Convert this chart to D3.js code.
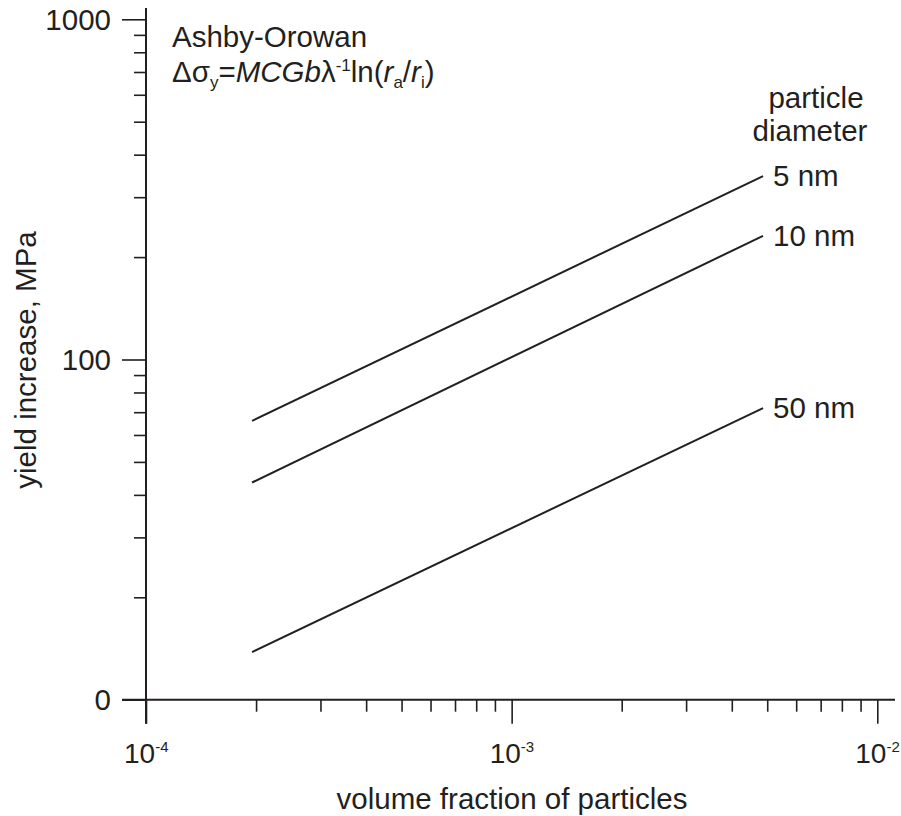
<!DOCTYPE html>
<html>
<head>
<meta charset="utf-8">
<script src="https://cdn.jsdelivr.net/npm/d3@7"></script>
<style>
body { margin: 0; background: #fff; }
text { font-family: "Liberation Sans", Arial, sans-serif; fill: #231f20; }
</style>
</head>
<body>
<script>
//width and height of svg
var w = 901;
var h = 816;

//the data
var volFraction = [1.95e-4, 4.87e-3];
var diameters = ["5 nm", "10 nm", "50 nm"];
var yield5 = [66, 346];
var yield10 = [43.5, 231];
var yield50 = [13.8, 72];
var xMajor = [1e-4, 1e-3, 1e-2];
var xMajorLabels = ["-4", "-3", "-2"];
var yMajor = [10, 100, 1000];
var yMajorLabels = ["0", "100", "1000"];

var series = [yield5, yield10, yield50];

//minor ticks: 2..9 in each decade
var xMinor = [];
[1e-4, 1e-3].forEach(function(d) {
    for (var k = 2; k < 10; k++) xMinor.push(d * k);
});
var yMinor = [];
[10, 100].forEach(function(d) {
    for (var k = 2; k < 10; k++) yMinor.push(d * k);
});

var svg = d3.select("body")
            .append("svg")
            .attr("width", w)
            .attr("height", h);

//log scales on both axes
var xScale = d3.scaleLog()
                .domain([1e-4, 1e-2])
                .range([146, 877.3]);

var yScale = d3.scaleLog()
                .domain([10, 1000])
                .range([699.7, 19.3]);

var x0 = xScale.range()[0];
var y0 = yScale.range()[0];

var ink = "#231f20";
var fs = "29.5px";
var fsSmall = "17px";

//axis lines, drawn long like in the original
svg.append("line")
    .attr("x1", x0).attr("x2", x0)
    .attr("y1", 8).attr("y2", y0 + 24)
    .attr("stroke", ink).attr("stroke-width", 2);
svg.append("line")
    .attr("x1", x0 - 24).attr("x2", 895)
    .attr("y1", y0).attr("y2", y0)
    .attr("stroke", ink).attr("stroke-width", 2);

//ticks through d3 axes
function styleAxis(g) {
    g.select(".domain").remove();
    g.selectAll(".tick line").attr("stroke", ink).attr("stroke-width", 1.6);
    g.selectAll(".tick text").remove();
}

svg.append("g")
    .attr("transform", "translate(" + x0 + ",0)")
    .call(d3.axisLeft(yScale).tickValues(yMajor).tickSize(24))
    .call(styleAxis);
svg.append("g")
    .attr("transform", "translate(" + x0 + ",0)")
    .call(d3.axisLeft(yScale).tickValues(yMinor).tickSize(12))
    .call(styleAxis);
svg.append("g")
    .attr("transform", "translate(0," + y0 + ")")
    .call(d3.axisBottom(xScale).tickValues(xMajor).tickSize(24))
    .call(styleAxis);
svg.append("g")
    .attr("transform", "translate(0," + y0 + ")")
    .call(d3.axisBottom(xScale).tickValues(xMinor).tickSize(12))
    .call(styleAxis);

//y tick labels
svg.selectAll(".ylab")
    .data(yMajor)
    .enter()
    .append("text")
    .attr("x", 111)
    .attr("y", function(d) { return yScale(d); })
    .attr("dy", "0.35em")
    .attr("text-anchor", "end")
    .style("font-size", fs)
    .text(function(d, i) { return yMajorLabels[i]; });

//x tick labels, 10 with a superscript
var xl = svg.selectAll(".xlab")
    .data(xMajor)
    .enter()
    .append("text")
    .attr("x", function(d) { return xScale(d) - 22; })
    .attr("y", 763)
    .style("font-size", "28px");
xl.append("tspan").text("10");
xl.append("tspan")
    .attr("dy", -11)
    .style("font-size", "15px")
    .text(function(d, i) { return xMajorLabels[i]; });

//the lines
var line = d3.line()
    .x(function(d, i) { return xScale(volFraction[i]); })
    .y(function(d) { return yScale(d); });

svg.selectAll(".series")
    .data(series)
    .enter()
    .append("path")
    .attr("d", line)
    .attr("fill", "none")
    .attr("stroke", ink)
    .attr("stroke-width", 2);

//line labels
svg.selectAll(".dlab")
    .data(series)
    .enter()
    .append("text")
    .attr("x", xScale(volFraction[1]) + 10)
    .attr("y", function(d) { return yScale(d[1]); })
    .attr("dy", "0.35em")
    .style("font-size", fs)
    .text(function(d, i) { return diameters[i]; });

svg.append("text")
    .attr("x", 816).attr("y", 108)
    .attr("text-anchor", "middle")
    .style("font-size", fs)
    .text("particle");
svg.append("text")
    .attr("x", 810).attr("y", 141)
    .attr("text-anchor", "middle")
    .style("font-size", fs)
    .text("diameter");

//formula
svg.append("text")
    .attr("x", 172).attr("y", 47)
    .style("font-size", fs)
    .text("Ashby-Orowan");

var f = svg.append("text")
    .attr("x", 172).attr("y", 82)
    .style("font-size", fs);
f.append("tspan").text("\u0394\u03c3");
f.append("tspan").attr("dy", 6).style("font-size", fsSmall).text("y");
f.append("tspan").attr("dy", -6).text("=");
f.append("tspan").style("font-style", "italic").text("MCGb");
f.append("tspan").text("\u03bb");
f.append("tspan").attr("dy", -11).style("font-size", fsSmall).text("-1");
f.append("tspan").attr("dy", 11).text("ln(");
f.append("tspan").style("font-style", "italic").text("r");
f.append("tspan").attr("dy", 6).style("font-size", fsSmall).text("a");
f.append("tspan").attr("dy", -6).text("/");
f.append("tspan").style("font-style", "italic").text("r");
f.append("tspan").attr("dy", 6).style("font-size", fsSmall).text("i");
f.append("tspan").attr("dy", -6).text(")");

//axis titles
svg.append("text")
    .attr("x", 512).attr("y", 809)
    .attr("text-anchor", "middle")
    .style("font-size", fs)
    .text("volume fraction of particles");

svg.append("text")
    .attr("transform", "translate(36,360) rotate(-90)")
    .attr("text-anchor", "middle")
    .style("font-size", fs)
    .text("yield increase, MPa");
</script>
</body>
</html>
